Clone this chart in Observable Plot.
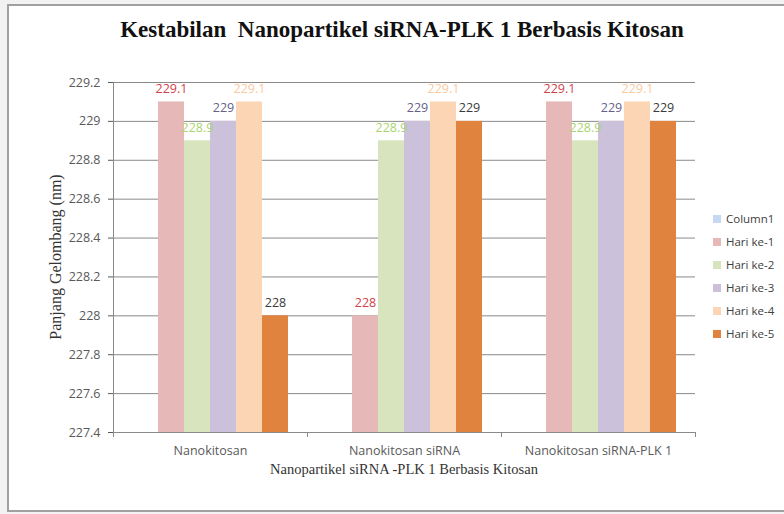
<!DOCTYPE html>
<html>
<head>
<meta charset="utf-8">
<script src="https://cdn.jsdelivr.net/npm/d3@7"></script>
<script src="https://cdn.jsdelivr.net/npm/@observablehq/plot@0.6"></script>
<style>
  html, body { margin: 0; padding: 0; background: #f2f2f2; }
  #wrap { position: relative; width: 784px; height: 514px; overflow: hidden; }
  #box { position: absolute; left: 7px; top: 4px; width: 800px; height: 504px; border: 2px solid #a0a0a0; background: #fff; }
  #title { position: absolute; left: 10px; top: 0; width: 784px; height: 60px; text-align: center;
    font-family: "Liberation Serif", serif; font-weight: bold; font-size: 23px; line-height: 60px; color: #111; }
  #chart { position: absolute; left: 0; top: 62px; }
  #legend { position: absolute; left: 713px; top: 207px; font-family: "Open Sans", sans-serif; font-size: 11.5px; color: #404040; }
  .row { height: 23px; display: flex; align-items: center; }
  .sw { width: 8px; height: 8px; margin-right: 5px; }
</style>
</head>
<body>
<div id="wrap">
  <div id="box"></div>
  <div id="title">Kestabilan&nbsp; Nanopartikel siRNA-PLK 1 Berbasis Kitosan</div>
  <div id="chart"></div>
  <div id="legend"></div>
</div>
<script>
const groups = ["Nanokitosan", "Nanokitosan siRNA", "Nanokitosan siRNA-PLK 1"];
const series = ["Column1", "Hari ke-1", "Hari ke-2", "Hari ke-3", "Hari ke-4", "Hari ke-5"];
const column1 = [null, null, null];
const hari1 = [229.1, 228, 229.1];
const hari2 = [228.9, 228.9, 228.9];
const hari3 = [229, 229, 229];
const hari4 = [229.1, 229.1, 229.1];
const hari5 = [228, 229, 229];
const barColors = ["#c6d9f1", "#e6b9b8", "#d7e4bd", "#ccc1da", "#fcd5b5", "#e0833f"];
const labelColors = ["#4f81bd", "#cf3f4a", "#a9d46f", "#65618a", "#fbc99e", "#3a3a3a"];
const yTicks = [227.4, 227.6, 227.8, 228, 228.2, 228.4, 228.6, 228.8, 229, 229.2];
const yTitle = "Panjang Gelombang (nm)";
const xTitle = "Nanopartikel siRNA -PLK 1 Berbasis Kitosan";

const valuesBySeries = [column1, hari1, hari2, hari3, hari4, hari5];
const rows = [];
series.forEach((s, i) => {
  groups.forEach((g, j) => {
    const v = valuesBySeries[i][j];
    if (v != null) rows.push({group: g, series: s, value: v});
  });
});

const W = 784, H = 452;
const mL = 113, mR = 89, mT = 20, mB = 82;

const plot = Plot.plot({
  width: W,
  height: H,
  marginLeft: mL,
  marginRight: mR,
  marginTop: mT,
  marginBottom: mB,
  style: {fontFamily: "Open Sans, sans-serif", fontSize: "12.5px", color: "#595959", background: "transparent"},
  fx: {domain: groups, padding: 0, axis: "bottom", label: null, tickSize: 0, tickPadding: 14},
  x: {domain: series, paddingInner: 0, paddingOuter: 0.64, axis: null},
  y: {domain: [227.4, 229.2], ticks: yTicks, tickFormat: d => String(+d.toFixed(1)), tickSize: 5, tickPadding: 8, label: null},
  color: {domain: series, range: barColors},
  marks: [
    Plot.ruleY(yTicks, {stroke: "#8a8a8a", strokeWidth: 1}),
    Plot.barY(rows, {fx: "group", x: "series", y1: 227.4, y2: "value", fill: "series"}),
    Plot.text(rows, {fx: "group", x: "series", y: "value", text: d => String(d.value), dy: -13,
      fill: d => labelColors[series.indexOf(d.series)], fontSize: 12.5})
  ]
});

document.getElementById("chart").appendChild(plot);

// axis line, group boundary ticks and axis titles
const svg = d3.select(plot);
const fx = plot.scale("fx");
const yS = plot.scale("y");
const yBottom = yS.apply(227.4);
const yTop = yS.apply(229.2);
svg.append("line").attr("x1", mL + 0.5).attr("x2", mL + 0.5).attr("y1", yTop).attr("y2", yBottom).attr("stroke", "#8a8a8a");
const bw = fx.bandwidth;
const edges = groups.map(g => fx.apply(g)).concat([fx.apply(groups[groups.length - 1]) + bw]);
edges.forEach(x => {
  svg.append("line").attr("x1", x + 0.5).attr("x2", x + 0.5).attr("y1", yBottom).attr("y2", yBottom + 5).attr("stroke", "#8a8a8a");
});
svg.append("text").attr("x", (mL + W - mR) / 2).attr("y", yBottom + 39).attr("text-anchor", "middle").attr("dominant-baseline", "middle")
  .attr("font-family", "Liberation Serif, serif").attr("font-size", 14.5).attr("fill", "#333").text(xTitle);
svg.append("text").attr("transform", `translate(57,${(yTop + yBottom) / 2}) rotate(-90)`).attr("text-anchor", "middle").attr("dominant-baseline", "middle")
  .attr("font-family", "Liberation Serif, serif").attr("font-size", 16).attr("fill", "#333").text(yTitle);

// legend
const leg = d3.select("#legend");
series.forEach((s, i) => {
  const r = leg.append("div").attr("class", "row");
  r.append("div").attr("class", "sw").style("background", barColors[i]);
  r.append("span").text(s);
});
</script>
</body>
</html>
